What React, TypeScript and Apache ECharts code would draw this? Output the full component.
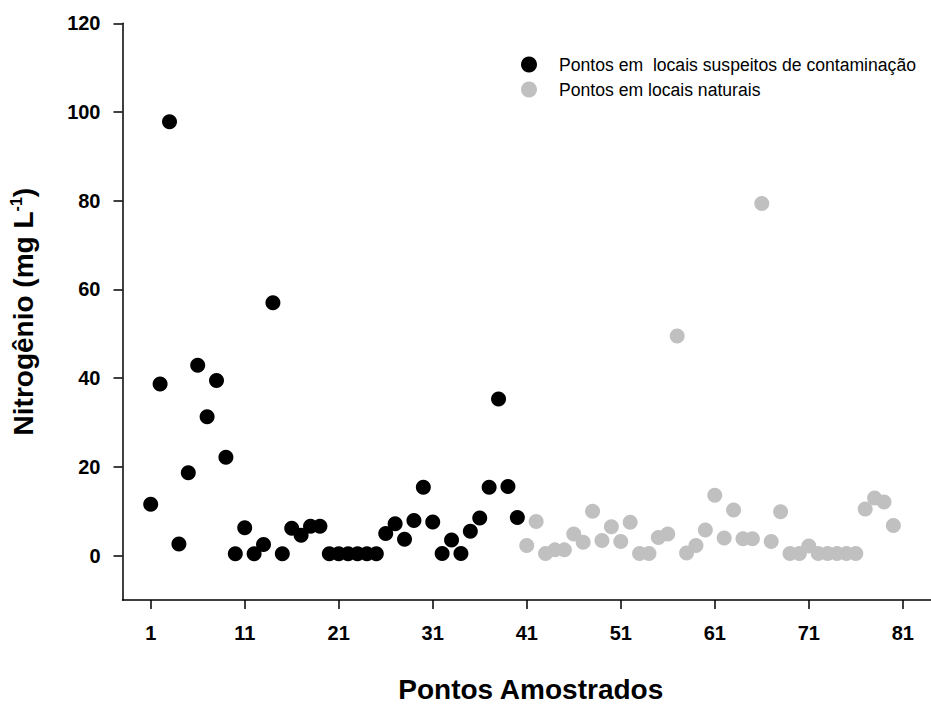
import React, { useEffect, useRef } from "react";
import * as echarts from "echarts";

const suspectStartX = 1;
const suspectValues = [
  11.6, 38.7, 97.8, 2.6, 18.7, 42.9, 31.3, 39.5, 22.2, 0.4,
  6.3, 0.4, 2.5, 57.0, 0.4, 6.2, 4.6, 6.6, 6.6, 0.4,
  0.4, 0.4, 0.4, 0.4, 0.4, 5.0, 7.2, 3.7, 7.9, 15.4,
  7.6, 0.5, 3.5, 0.5, 5.5, 8.5, 15.4, 35.3, 15.6, 8.6,
];
const naturalStartX = 41;
const naturalValues = [
  2.3, 7.7, 0.5, 1.3, 1.3, 4.9, 3.0, 10.0, 3.4, 6.5,
  3.2, 7.5, 0.5, 0.5, 4.1, 4.9, 49.5, 0.6, 2.3, 5.8,
  13.6, 4.0, 10.3, 3.8, 3.8, 79.4, 3.2, 9.9, 0.5, 0.5,
  2.2, 0.5, 0.5, 0.5, 0.5, 0.5, 10.5, 13.0, 12.1, 6.8,
];
const xTickValues = [1, 11, 21, 31, 41, 51, 61, 71, 81];
const yTickValues = [0, 20, 40, 60, 80, 100, 120];
const seriesNames = [
  "Pontos em  locais suspeitos de contaminação",
  "Pontos em locais naturais",
];

const FONT = '"Liberation Sans", Arial, sans-serif';

export default function App() {
  const ref = useRef<HTMLDivElement>(null);
  useEffect(() => {
    if (!ref.current) return;
    const chart = echarts.init(ref.current, null, { renderer: "svg" });
    const suspectData = suspectValues.map((v, i) => [suspectStartX + i, v]);
    const naturalData = naturalValues.map((v, i) => [naturalStartX + i, v]);
    const axisLineStyle = { color: "#000", width: 1.5 };
    chart.setOption({
      animation: false,
      backgroundColor: "#fff",
      textStyle: { fontFamily: FONT },
      grid: { left: 122.5, top: 23.3, width: 809, height: 588.4, containLabel: false },
      legend: {
        orient: "vertical",
        left: 516,
        top: 50.5,
        itemWidth: 50,
        itemHeight: 16,
        itemGap: 7,
        icon: "circle",
        textStyle: { fontFamily: FONT, fontSize: 17.6, color: "#000" },
        data: seriesNames,
      },
      xAxis: {
        type: "value",
        min: -2,
        max: 84,
        name: "Pontos Amostrados",
        nameLocation: "middle",
        nameGap: 75,
        nameTextStyle: {
          fontFamily: FONT,
          fontSize: 28,
          fontWeight: "bold",
          color: "#000",
          padding: [0, 0, 0, 8],
        },
        axisLine: { onZero: false, lineStyle: axisLineStyle },
        axisTick: { show: true, length: 9, customValues: xTickValues, lineStyle: axisLineStyle },
        axisLabel: {
          customValues: xTickValues,
          margin: 23,
          fontFamily: FONT,
          fontSize: 20,
          fontWeight: "bold",
          color: "#000",
        },
        splitLine: { show: false },
      },
      yAxis: {
        type: "value",
        min: -10,
        max: 120,
        name: "{a|Nitrogênio (mg L}{s|-1}{a|)}",
        nameLocation: "middle",
        nameGap: 84,
        nameRotate: 90,
        nameTextStyle: {
          fontFamily: FONT,
          color: "#000",
          rich: {
            a: { fontFamily: FONT, fontSize: 28, fontWeight: "bold", color: "#000", lineHeight: 30 },
            s: { fontFamily: FONT, fontSize: 16, fontWeight: "bold", color: "#000", verticalAlign: "top", lineHeight: 16 },
          },
        },
        axisLine: { onZero: false, lineStyle: axisLineStyle },
        axisTick: { show: true, length: 9, customValues: yTickValues, lineStyle: axisLineStyle },
        axisLabel: {
          customValues: yTickValues,
          margin: 22,
          fontFamily: FONT,
          fontSize: 20,
          fontWeight: "bold",
          color: "#000",
        },
        splitLine: { show: false },
      },
      series: [
        {
          name: seriesNames[0],
          type: "scatter",
          symbol: "circle",
          symbolSize: 15,
          itemStyle: { color: "#000", opacity: 1 },
          data: suspectData,
        },
        {
          name: seriesNames[1],
          type: "scatter",
          symbol: "circle",
          symbolSize: 15,
          itemStyle: { color: "#c0c0c0", opacity: 1 },
          data: naturalData,
        },
      ],
    });
    return () => chart.dispose();
  }, []);
  return (
    <div
      ref={ref}
      style={{ position: "fixed", left: 0, top: 0, width: 931, height: 708, background: "#fff" }}
    />
  );
}
